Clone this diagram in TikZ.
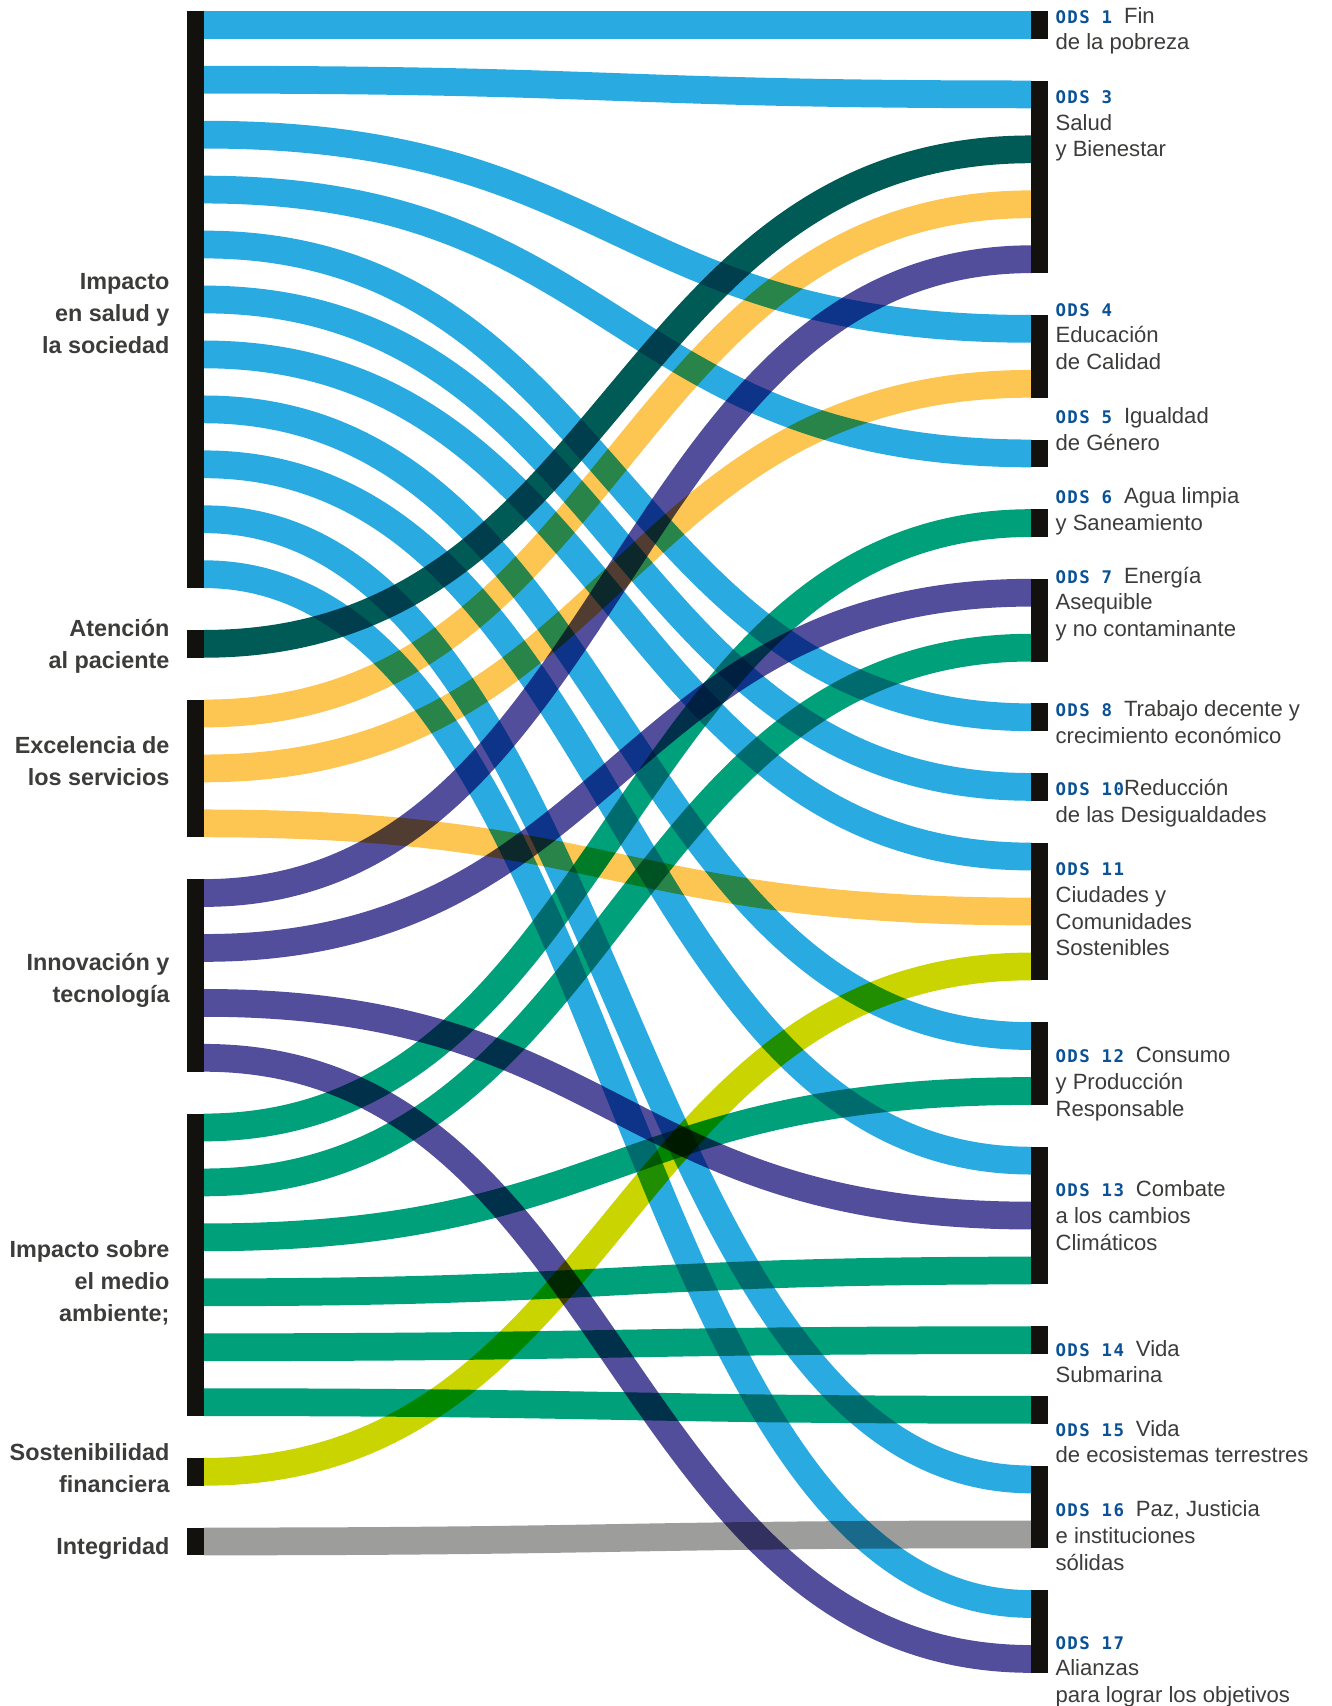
\documentclass[tikz,border=0pt]{standalone}
\usepackage{fontspec}
\setmainfont{Liberation Sans}
\newfontfamily\odsfont[LetterSpace=8]{DejaVu Sans Mono Bold}
\definecolor{cblue}{HTML}{29ABE2}
\definecolor{cteal}{HTML}{005B57}
\definecolor{cyellow}{HTML}{FDC552}
\definecolor{cpurple}{HTML}{524E9B}
\definecolor{cgreen}{HTML}{00A07B}
\definecolor{clime}{HTML}{C9D400}
\definecolor{cgray}{HTML}{9D9D9C}
\definecolor{barblack}{HTML}{12110D}
\definecolor{odsblue}{HTML}{0A5195}
\definecolor{textgray}{HTML}{3C3C3B}
\newcommand\odsn[1]{{\odsfont\fontsize{16}{16}\selectfont\color{odsblue}#1}}
\begin{document}
\begin{tikzpicture}[x=1pt,y=-1pt,
  rib/.style={line width=25.5pt},
  bar/.style={fill=barblack,draw=none,inner sep=0pt,minimum width=15.5pt},
  lbl/.style={font=\bfseries\fontsize{21.5}{29.5}\selectfont,text=textgray,align=right,inner sep=0pt,anchor=base east},
  rlbl/.style={font=\fontsize{20.3}{24.5}\selectfont,text=textgray,align=left,inner sep=0pt,anchor=base west}]
\useasboundingbox (0,0) rectangle (1224,1568);
% left slots
\foreach \n/\y in {1/22.75,2/73.25,3/123.75,4/174.25,5/224.75,6/275.25,7/325.75,8/376.25,9/426.75,10/477.25,11/527.75,12/591.75,13/655.75,14/706.25,15/756.75,16/820.75,17/871.25,18/921.75,19/972.25,20/1036.25,21/1086.75,22/1137.25,23/1187.75,24/1238.25,25/1288.75,26/1352.75,27/1416.75}
  {\coordinate (a\n) at (187.5,\y);}
% right slots
\foreach \n/\y in {1/22.75,2/86.75,3/137.25,4/187.75,5/238.25,6/302.25,7/352.75,8/416.75,9/480.75,10/544.75,11/595.25,12/659.25,13/723.25,14/787.25,15/837.75,16/888.25,17/952.25,18/1002.75,19/1066.75,20/1117.25,21/1167.75,22/1231.75,23/1295.75,24/1359.75,25/1410.25,26/1474.25,27/1524.75}
  {\coordinate (z\n) at (948,\y);}
\begin{scope}[blend mode=multiply]
\foreach \s/\t/\c in {1/1/cblue,2/2/cblue,3/6/cblue,4/8/cblue,5/12/cblue,6/13/cblue,7/14/cblue,8/17/cblue,9/19/cblue,10/24/cblue,11/26/cblue,
  12/3/cteal,13/4/cyellow,14/7/cyellow,15/15/cyellow,
  16/5/cpurple,17/10/cpurple,18/20/cpurple,19/27/cpurple,
  20/9/cgreen,21/11/cgreen,22/18/cgreen,23/21/cgreen,24/22/cgreen,25/23/cgreen,
  26/16/clime,27/25/cgray}
  {\draw[rib,draw=\c] (a\s) .. controls +(380.25,0) and +(-380.25,0) .. (z\t);}
\end{scope}
% left bars
\node[bar,minimum height=530.5pt] (bL1) at (179.75,275.25) {};
\node[bar,minimum height=25.5pt] (bL2) at (179.75,591.75) {};
\node[bar,minimum height=126.5pt] (bL3) at (179.75,706.25) {};
\node[bar,minimum height=177pt] (bL4) at (179.75,896.5) {};
\node[bar,minimum height=278pt] (bL5) at (179.75,1162.5) {};
\node[bar,minimum height=25.5pt] (bL6) at (179.75,1352.75) {};
\node[bar,minimum height=25.5pt] (bL7) at (179.75,1416.75) {};
% right bars
\node[bar,minimum height=25.5pt] (bR1) at (955.75,22.75) {};
\node[bar,minimum height=177pt] (bR3) at (955.75,162.5) {};
\node[bar,minimum height=76pt] (bR4) at (955.75,327.5) {};
\node[bar,minimum height=25.5pt] (bR5) at (955.75,416.75) {};
\node[bar,minimum height=25.5pt] (bR6) at (955.75,480.75) {};
\node[bar,minimum height=76pt] (bR7) at (955.75,570) {};
\node[bar,minimum height=25.5pt] (bR8) at (955.75,659.25) {};
\node[bar,minimum height=25.5pt] (bR10) at (955.75,723.25) {};
\node[bar,minimum height=126.5pt] (bR11) at (955.75,837.75) {};
\node[bar,minimum height=76pt] (bR12) at (955.75,977.5) {};
\node[bar,minimum height=126.5pt] (bR13) at (955.75,1117.25) {};
\node[bar,minimum height=25.5pt] (bR14) at (955.75,1231.75) {};
\node[bar,minimum height=25.5pt] (bR15) at (955.75,1295.75) {};
\node[bar,minimum height=76pt] (bR16) at (955.75,1385) {};
\node[bar,minimum height=76pt] (bR17) at (955.75,1499.5) {};
% left labels (anchor = baseline of last line)
\node[lbl] (tL1) at (156,325) {Impacto\\en salud y\\la sociedad};
\node[lbl] (tL2) at (156,614.5) {Atención\\al paciente};
\node[lbl] (tL3) at (156,722) {Excelencia de\\los servicios};
\node[lbl] (tL4) at (156,921.5) {Innovación y\\tecnología};
\node[lbl] (tL5) at (156,1215) {Impacto sobre\\el medio\\ambiente;};
\node[lbl] (tL6) at (156,1371.5) {Sostenibilidad\\financiera};
\node[lbl] (tL7) at (156,1429) {Integridad};
% right labels (anchor = baseline of last line)
\node[rlbl] (tR1) at (970,45.8) {\odsn{ODS 1 }Fin\\de la pobreza};
\node[rlbl] (tR3) at (970,144) {\odsn{ODS 3}\\Salud\\y Bienestar};
\node[rlbl] (tR4) at (970,339.7) {\odsn{ODS 4}\\Educación\\de Calidad};
\node[rlbl] (tR5) at (970,413.6) {\odsn{ODS 5 }Igualdad\\de Género};
\node[rlbl] (tR6) at (970,487.5) {\odsn{ODS 6 }Agua limpia\\y Saneamiento};
\node[rlbl] (tR7) at (970,585) {\odsn{ODS 7 }Energía\\Asequible\\y no contaminante};
\node[rlbl] (tR8) at (970,683) {\odsn{ODS 8 }Trabajo decente y\\crecimiento económico};
\node[rlbl] (tR10) at (970,756) {\odsn{ODS 10}Reducción\\de las Desigualdades};
\node[rlbl] (tR11) at (970,878.5) {\odsn{ODS 11}\\Ciudades y\\Comunidades\\Sostenibles};
\node[rlbl] (tR12) at (970,1026) {\odsn{ODS 12 }Consumo\\y Producción\\Responsable};
\node[rlbl] (tR13) at (970,1149) {\odsn{ODS 13 }Combate\\a los cambios\\Climáticos};
\node[rlbl] (tR14) at (970,1271) {\odsn{ODS 14 }Vida\\Submarina};
\node[rlbl] (tR15) at (970,1344.5) {\odsn{ODS 15 }Vida\\de ecosistemas terrestres};
\node[rlbl] (tR16) at (970,1443) {\odsn{ODS 16 }Paz, Justicia\\e instituciones\\sólidas};
\node[rlbl] (tR17) at (970,1564.8) {\odsn{ODS 17}\\Alianzas\\para lograr los objetivos};
\end{tikzpicture}
\end{document}
